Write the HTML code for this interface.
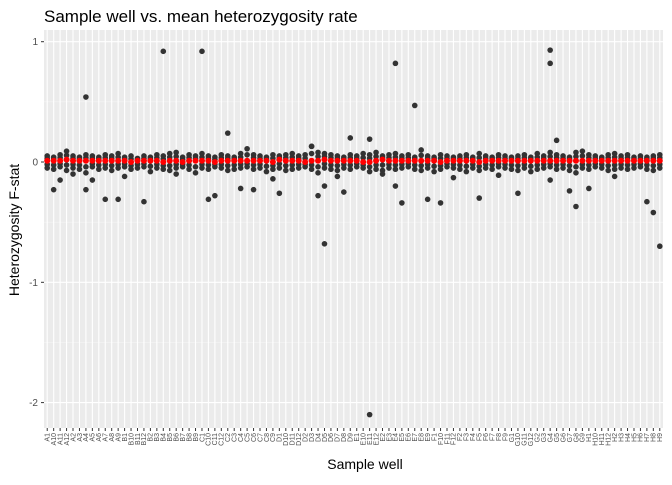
<!DOCTYPE html>
<html><head><meta charset="utf-8"><style>
body{margin:0;background:#fff;}
svg text{font-family:"Liberation Sans",sans-serif;}
</style></head><body>
<svg id="chart" width="672" height="480">
<text x="44" y="22" font-size="17" fill="#000">Sample well vs. mean heterozygosity rate</text>
<text transform="translate(19,230) rotate(-90)" text-anchor="middle" font-size="14" fill="#000">Heterozygosity F-stat</text>
<text x="365" y="469" text-anchor="middle" font-size="14" fill="#000">Sample well</text>
<g id="panel"></g>
</svg>
<script>
const rows=['A','B','C','D','E','F','G','H'];
const wells=[];
rows.forEach(r=>{[1,10,11,12,2,3,4,5,6,7,8,9].forEach(n=>wells.push(r+n));});
const clusterHi=[0.05,0.04,0.06,0.09,0.05,0.04,0.06,0.05,0.04,0.06,0.05,0.07,0.04,0.05,0.03,0.05,0.04,0.06,0.05,0.07,0.08,0.04,0.06,0.05,0.07,0.05,0.04,0.06,0.05,0.04,0.07,0.11,0.06,0.05,0.04,0.06,0.05,0.06,0.07,0.05,0.06,0.13,0.08,0.07,0.06,0.05,0.04,0.06,0.05,0.07,0.06,0.08,0.05,0.06,0.07,0.05,0.06,0.04,0.10,0.05,0.04,0.06,0.05,0.04,0.05,0.06,0.04,0.07,0.05,0.04,0.06,0.05,0.04,0.05,0.06,0.04,0.07,0.05,0.08,0.06,0.05,0.04,0.08,0.09,0.06,0.05,0.04,0.06,0.07,0.05,0.06,0.04,0.05,0.04,0.05,0.06];
const clusterLo=[-0.05,-0.06,-0.04,-0.07,-0.05,-0.06,-0.09,-0.04,-0.06,-0.05,-0.07,-0.05,-0.04,-0.06,-0.05,-0.04,-0.08,-0.05,-0.06,-0.07,-0.05,-0.04,-0.06,-0.09,-0.05,-0.06,-0.04,-0.05,-0.07,-0.06,-0.05,-0.04,-0.06,-0.05,-0.08,-0.06,-0.05,-0.07,-0.06,-0.05,-0.04,-0.06,-0.09,-0.05,-0.06,-0.07,-0.05,-0.06,-0.04,-0.05,-0.08,-0.06,-0.07,-0.05,-0.06,-0.05,-0.04,-0.06,-0.07,-0.05,-0.08,-0.06,-0.04,-0.05,-0.06,-0.08,-0.05,-0.07,-0.05,-0.06,-0.04,-0.05,-0.06,-0.07,-0.05,-0.08,-0.06,-0.05,-0.04,-0.06,-0.05,-0.07,-0.09,-0.05,-0.06,-0.04,-0.05,-0.07,-0.06,-0.05,-0.06,-0.05,-0.04,-0.06,-0.07,-0.05];
const means=[0.01,0.01,0.01,0.02,0.01,0.01,0.01,0.01,0.01,0.01,0.01,0.01,0.01,0.0,0.01,0.01,0.01,0.01,0.0,0.01,0.01,0.0,0.01,0.01,0.01,0.01,0.0,0.01,0.01,0.01,0.01,0.01,0.01,0.01,0.01,0.0,0.02,0.01,0.01,0.01,0.0,0.01,0.01,0.02,0.01,0.01,0.01,0.01,0.01,0.0,0.0,0.01,0.02,0.01,0.01,0.01,0.01,0.01,0.01,0.01,0.01,0.0,0.01,0.01,0.01,0.01,0.01,0.0,0.01,0.01,0.01,0.01,0.01,0.01,0.01,0.01,0.01,0.01,0.01,0.01,0.01,0.01,0.01,0.01,0.01,0.01,0.01,0.01,0.01,0.01,0.01,0.01,0.01,0.01,0.01,0.01];
const outWell=[1,2,6,6,7,9,11,15,18,24,25,26,28,30,32,36,42,43,43,46,47,50,50,54,54,55,57,59,61,67,73,78,78,79,78,81,82,84,93,94,95,41,4,12,20,35,45,52,63,70,88];
const outVal=[-0.23,-0.15,0.54,-0.23,-0.15,-0.31,-0.31,-0.33,0.92,0.92,-0.31,-0.28,0.24,-0.22,-0.23,-0.26,-0.28,-0.68,-0.2,-0.25,0.2,0.19,-2.1,0.82,-0.2,-0.34,0.47,-0.31,-0.34,-0.3,-0.26,0.93,0.82,0.18,-0.15,-0.24,-0.37,-0.22,-0.33,-0.42,-0.7,0.13,-0.1,-0.12,-0.1,-0.14,-0.12,-0.1,-0.13,-0.11,-0.12];
const yTicks=[1,0,-1,-2];
const yMinor=[0.5,-0.5,-1.5];

const NS='http://www.w3.org/2000/svg';
const P={l:44,r:663,t:30,b:428};
const bw=(P.r-P.l)/wells.length;
const xs=i=>P.l+(i+0.5)*bw;
const ys=v=>162-v*120.3;
const g=document.getElementById('panel');
function mk(t,a){const e=document.createElementNS(NS,t);for(const k in a)e.setAttribute(k,a[k]);g.appendChild(e);return e;}
let e=mk('rect',{x:P.l,y:P.t,width:P.r-P.l,height:P.b-P.t,fill:'#ebebeb'});


yMinor.forEach(v=>{const l=mk('line',{x1:P.l,x2:P.r,y1:ys(v),y2:ys(v),stroke:'#f5f5f5','stroke-width':0.6});

});
yTicks.forEach(v=>{const l=mk('line',{x1:P.l,x2:P.r,y1:ys(v),y2:ys(v),stroke:'#fff','stroke-width':1.1});


const t=mk('text',{x:P.l-6,y:ys(v)+3.5,'text-anchor':'end','font-size':10,fill:'#4d4d4d'});t.textContent=v;


mk('line',{x1:P.l-3,x2:P.l,y1:ys(v),y2:ys(v),stroke:'#333','stroke-width':1});});
wells.forEach((w,i)=>{const x=xs(i);
const l=mk('line',{x1:x,x2:x,y1:P.t,y2:P.b,stroke:'#fff','stroke-width':1.1});


mk('line',{x1:x,x2:x,y1:P.b,y2:P.b+3,stroke:'#333','stroke-width':1});
const t=mk('text',{transform:`translate(${x+2.3},${P.b+5}) rotate(-90)`,'text-anchor':'end','font-size':7,fill:'#4d4d4d'});t.textContent=w;

});
function pt(x,v,c,r,n){const p=mk('circle',{cx:x,cy:ys(v),r:r,fill:c});

}
wells.forEach((w,i)=>{const x=xs(i);
pt(x,clusterHi[i],'#333',2.8,'sample-point');
pt(x,(clusterHi[i]+means[i])/2,'#333',2.8,'sample-point');
pt(x,(clusterLo[i]+means[i])/2,'#333',2.8,'sample-point');
pt(x,clusterLo[i],'#333',2.8,'sample-point');});
outWell.forEach((wi,k)=>pt(xs(wi),outVal[k],'#333',2.8,'outlier-point'));
wells.forEach((w,i)=>pt(xs(i),means[i],'#ff0000',3,'mean-point'));
</script>
</body></html>
